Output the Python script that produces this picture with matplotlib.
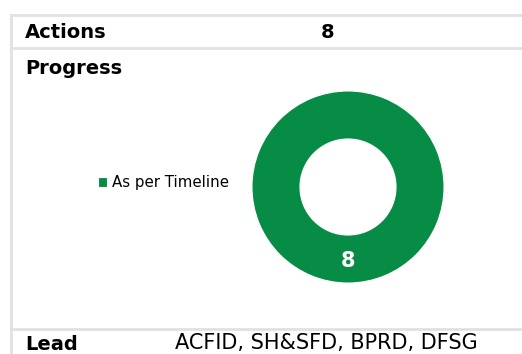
import matplotlib.pyplot as plt

# data
actions = 8
progress_labels = ['As per Timeline']
progress_values = [8]
progress_colors = ['#078c45']
lead = 'ACFID, SH&SFD, BPRD, DFSG'

plt.rcParams['font.family'] = ['DejaVu Sans']

W, H = 522, 354
fig = plt.figure(figsize=(W / 100, H / 100), dpi=100)

# background axes in pixel coordinates for the table frame and text
bg = fig.add_axes([0, 0, 1, 1])
bg.set_xlim(0, W)
bg.set_ylim(H, 0)
bg.axis('off')

grid = '#e1e1e1'
bg.plot([11, W], [15, 15], color=grid, lw=2)
bg.plot([11, W], [48, 48], color=grid, lw=2)
bg.plot([11, W], [329, 329], color=grid, lw=2)
bg.plot([11, 11], [15, H], color=grid, lw=2)

bg.text(25, 32, 'Actions', fontsize=14, fontweight='bold', va='center', ha='left')
bg.text(328, 32, str(actions), fontsize=14, fontweight='bold', va='center', ha='center')
bg.text(25, 68, 'Progress', fontsize=14, fontweight='bold', va='center', ha='left')
# last row sits right at the bottom edge
bg.text(25, 345, 'Lead', fontsize=14, fontweight='bold', va='center', ha='left')
bg.text(175, 343, lead, fontsize=15, va='center', ha='left')

# donut chart
cx, cy, r = 348, 187, 97
ax = fig.add_axes([(cx - r) / W, (H - cy - r) / H, 2 * r / W, 2 * r / H])
total = sum(progress_values)
wedges, _, autotexts = ax.pie(progress_values, colors=progress_colors, startangle=90,
                              counterclock=False, radius=1,
                              wedgeprops=dict(width=0.5, edgecolor='white', linewidth=0.8),
                              autopct=lambda p: f'{p * total / 100:.0f}', pctdistance=0.77)
for t in autotexts:
    t.set_color('white')
    t.set_fontsize(15)
    t.set_fontweight('bold')
ax.set_xlim(-1.01, 1.01)
ax.set_ylim(-1.01, 1.01)
ax.set_aspect('equal')

fig.legend(wedges, progress_labels, loc='center left', bbox_to_anchor=(84 / W, 1 - 183 / H),
           frameon=False, fontsize=10.8, handlelength=0.6, handleheight=0.6, handletextpad=0.4)

fig.savefig('out.png', dpi=100)
